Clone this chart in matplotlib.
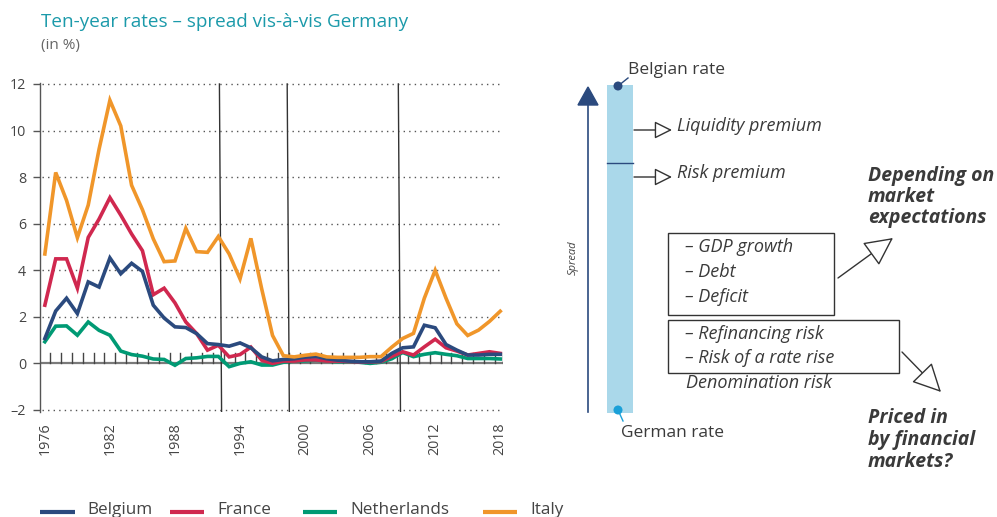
import numpy as np
import matplotlib
matplotlib.use('Agg')
import matplotlib.pyplot as plt
from matplotlib.patches import Rectangle, Polygon, Circle, FancyArrowPatch

plt.rcParams['font.family'] = ['Open Sans', 'DejaVu Sans']

# ---- data (spread vs Germany, %) ----
years = np.arange(1976, 2019)
belgium = [1.07, 2.25, 2.8, 2.14, 3.5, 3.28, 4.53, 3.85, 4.3, 3.95, 2.5, 1.95, 1.57, 1.54, 1.28,
           0.85, 0.81, 0.74, 0.88, 0.67, 0.28, 0.11, 0.17, 0.2, 0.27, 0.3, 0.2, 0.14,
           0.1, 0.07, 0.07, 0.1, 0.43, 0.67, 0.71, 1.64, 1.53, 0.81, 0.57, 0.36, 0.36, 0.39, 0.39]
france = [2.5, 4.49, 4.49, 3.23, 5.41, 6.2, 7.12, 6.37, 5.56, 4.84, 2.95, 3.23, 2.6, 1.78, 1.28,
          0.57, 0.78, 0.28, 0.38, 0.7, 0.14, 0.0, 0.1, 0.1, 0.15, 0.15, 0.1, 0.1,
          0.08, 0.06, 0.06, 0.08, 0.3, 0.5, 0.36, 0.71, 1.04, 0.67, 0.53, 0.36, 0.43, 0.5, 0.43]
netherlands = [0.93, 1.6, 1.61, 1.21, 1.78, 1.42, 1.21, 0.53, 0.38, 0.31, 0.19, 0.17, -0.08, 0.21, 0.24,
               0.3, 0.3, -0.14, 0.0, 0.07, -0.07, -0.07, 0.05, 0.1, 0.11, 0.14, 0.1, 0.07,
               0.07, 0.05, 0.0, 0.05, 0.2, 0.47, 0.29, 0.39, 0.46, 0.39, 0.33, 0.21, 0.21, 0.21, 0.19]
italy = [4.7, 8.2, 7.0, 5.4, 6.8, 9.2, 11.3, 10.2, 7.65, 6.6, 5.35, 4.37, 4.4, 5.8, 4.8,
         4.77, 5.45, 4.7, 3.63, 5.37, 3.2, 1.2, 0.33, 0.28, 0.35, 0.4, 0.28, 0.26,
         0.26, 0.26, 0.29, 0.29, 0.7, 1.07, 1.29, 2.8, 4.0, 2.8, 1.7, 1.2, 1.43, 1.8, 2.24]

series = ['Belgium', 'France', 'Netherlands', 'Italy']
colors = ['#2b4a7e', '#d0284f', '#009a74', '#f0962a']
y_ticks = [-2, 0, 2, 4, 6, 8, 10, 12]
x_labels = [1976, 1982, 1988, 1994, 2000, 2006, 2012, 2018]
event_lines = [1992.2, 1998.45, 2008.7]

TXT = '#3a3a3a'
GRAY = '#7a7a7a'

fig = plt.figure(figsize=(9.97, 5.17), dpi=100)

# ---- left: line chart ----
ax = fig.add_axes([0.0401, 0.2025, 0.4649, 0.6373])
ax.set_xlim(1975.55, 2018.3)
ax.set_ylim(-2.1, 12.05)

for yt in y_ticks:
    if yt != 0:
        ax.plot([1975.75, 2018.3], [yt, yt], color='#555555', lw=1.0,
                linestyle=(0, (1, 3)), zorder=1)
ax.axhline(0, color=GRAY, lw=1.6, zorder=2)
# year ticks on the zero line
for yr in years[:-1]:
    ax.plot([yr + 0.5, yr + 0.5], [0, 0.43], color='#444444', lw=1.0, zorder=2)
ax.plot([2018.28, 2018.28], [0, 0.43], color='#444444', lw=1.0, zorder=2)

for x in event_lines:
    ax.plot([x - 0.1, x + 0.1], [12.0, -2.1], color='#333333', lw=1.0, zorder=3)

# draw order: Netherlands, France, Belgium, Italy on top
all_vals = [belgium, france, netherlands, italy]
for idx in [2, 1, 0, 3]:
    ax.plot(years, all_vals[idx], color=colors[idx], lw=2.6, solid_joinstyle='miter', zorder=4)

for s in ['top', 'right', 'bottom']:
    ax.spines[s].set_visible(False)
ax.spines['left'].set_color('#555555')
ax.spines['left'].set_linewidth(1.0)
ax.set_yticks(y_ticks)
ax.set_yticklabels(['\u20132' if v < 0 else str(v) for v in y_ticks])
ax.tick_params(axis='y', length=5, width=1.0, color='#555555', labelsize=10.3,
               labelcolor='#444444', pad=5)
ax.set_xticks(x_labels)
ax.set_xticklabels([str(v) for v in x_labels], rotation=90)
ax.tick_params(axis='x', length=0, labelsize=10.3, labelcolor='#444444', pad=7)

# ---- overlay in pixel coordinates ----
ov = fig.add_axes([0, 0, 1, 1], zorder=5)
ov.set_xlim(0, 997)
ov.set_ylim(517, 0)
ov.axis('off')
ov.patch.set_alpha(0)

ov.text(41, 22, 'Ten-year rates \u2013 spread vis-\u00e0-vis Germany', color='#1b9aaa',
        fontsize=13.6, va='center', ha='left')
ov.text(41, 45, '(in %)', color='#666666', fontsize=11, va='center', ha='left')

# legend (runs off the bottom edge, as in the source)
leg_pos = [(40, 75, 87), (170, 204, 217), (303, 337, 350), (483, 517, 530)]
for (x0, x1, xt), name, c in zip(leg_pos, series, colors):
    ov.plot([x0, x1], [511.5, 511.5], color=c, lw=3.0, solid_capstyle='butt')
    ov.text(xt, 514.5, name, color='#444444', fontsize=12.3, va='baseline', ha='left')

# spread arrow
ov.plot([588, 588], [412, 104], color='#2b4a7e', lw=1.2)
ov.add_patch(Polygon([(578, 105), (598, 105), (588, 87)], closed=True,
                     fc='#2b4a7e', ec='#2b4a7e'))
ov.text(573, 258, 'Spread', rotation=90, style='italic', fontsize=8,
        color='#444444', ha='center', va='center')

# bar
ov.add_patch(Rectangle((607, 85), 26, 328, fc='#aad8ea', ec='none'))
ov.plot([607, 633], [163, 163], color='#2b4a7e', lw=1.0)

# dots and labels
ov.plot([618, 628], [86, 78], color='#2b4a7e', lw=1.0)
ov.add_patch(Circle((618, 86), 4.5, fc='#2b4a7e', ec='none', zorder=6))
ov.text(628, 70, 'Belgian rate', color=TXT, fontsize=12.5, va='center', ha='left')
ov.plot([618, 623], [410, 421], color='#1aa0d8', lw=1.0)
ov.add_patch(Circle((618, 410), 4.5, fc='#1aa0d8', ec='none', zorder=6))
ov.text(621, 433, 'German rate', color=TXT, fontsize=12.5, va='center', ha='left')


def open_arrow(x0, y0, x1, y1, scale):
    ov.add_patch(FancyArrowPatch((x0, y0), (x1, y1),
                                 arrowstyle='-|>,head_length=0.9,head_width=0.45',
                                 mutation_scale=scale, fc='white', ec='#333333',
                                 lw=1.0, shrinkA=0, shrinkB=0))


open_arrow(634, 130, 672, 130, 12)
open_arrow(634, 177, 672, 177, 12)
ov.text(677, 126, 'Liquidity premium', style='italic', color=TXT, fontsize=13,
        va='center', ha='left')
ov.text(677, 173, 'Risk premium', style='italic', color=TXT, fontsize=13,
        va='center', ha='left')

# boxes
ov.add_patch(Rectangle((668, 233), 166, 82, fc='none', ec='#333333', lw=1.0))
ov.add_patch(Rectangle((668, 320), 231, 53, fc='none', ec='#333333', lw=1.0))
for y, t in [(247, '\u2013 GDP growth'), (272, '\u2013 Debt'), (297, '\u2013 Deficit'),
             (334, '\u2013 Refinancing risk'), (358, '\u2013 Risk of a rate rise')]:
    ov.text(685, y, t, style='italic', color=TXT, fontsize=13, va='center', ha='left')
ov.text(686, 383, 'Denomination risk', style='italic', color=TXT, fontsize=13,
        va='center', ha='left')

open_arrow(838, 278, 893, 238, 20)
open_arrow(902, 352, 941, 392, 20)

for i, t in enumerate(['Depending on', 'market', 'expectations']):
    ov.text(868, 176 + 21 * i, t, style='italic', weight='bold', color=TXT,
            fontsize=14, va='center', ha='left')
for i, t in enumerate(['Priced in', 'by financial', 'markets?']):
    ov.text(868, 418 + 22 * i, t, style='italic', weight='bold', color=TXT,
            fontsize=14, va='center', ha='left')

fig.savefig('out.png', dpi=100)
